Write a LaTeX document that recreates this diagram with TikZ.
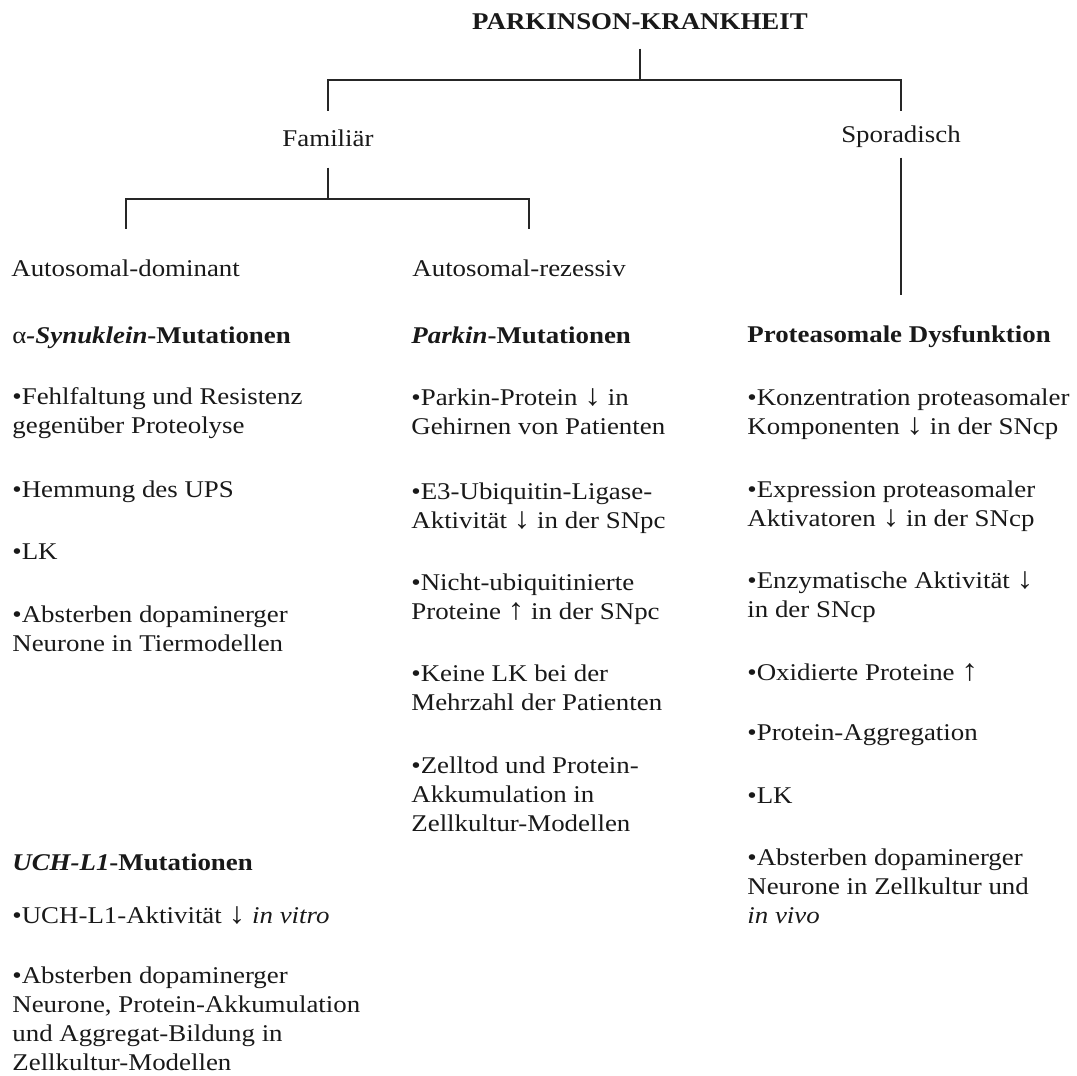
\documentclass[tikz,border=0pt]{standalone}
\usepackage{fontspec}
\setmainfont{Liberation Serif}[FakeStretch=1.12]
\usetikzlibrary{positioning}
\newcommand{\pksize}{\fontsize{12pt}{14.4pt}\selectfont}
\newcommand{\pkdown}{\scalebox{1.25}{↓}}
\newcommand{\pkup}{\scalebox{1.25}{↑}}

\begin{document}
\begin{tikzpicture}[
  x=0.5pt, y=-0.5pt,
  lbl/.style={inner sep=0pt, anchor=base, font=\pksize, text=black!90},
  head/.style={inner sep=0pt, anchor=base west, font=\pksize\bfseries, text=black!90},
  item/.style={inner sep=0pt, anchor=base west, align=left, font=\pksize, text=black!90},
  link/.style={line width=0.9pt, black!85}
]
  \useasboundingbox (0,0) rectangle (1077,1076);

  % tree
  \node[lbl, font=\pksize\bfseries] (pk) at (640,30) {PARKINSON-KRANKHEIT};
  \node[lbl] (fam) at (328,146) {Familiär};
  \node[lbl] (spor) at (901,142) {Sporadisch};
  \node[lbl, anchor=base west] (adom) at (11,276) {Autosomal-dominant};
  \node[lbl, anchor=base west] (arez) at (412,276) {Autosomal-rezessiv};

  \draw[link] ([yshift=-9pt]pk.south) -- ++(0,31) coordinate (j1);
  \draw[link] ([yshift=9pt]fam.north) |- (j1) -| ([yshift=7pt]spor.north);
  \draw[link] ([yshift=-10.5pt]fam.south) -- ++(0,31) coordinate (j2);
  \draw[link] ([yshift=15pt]adom.north) |- (j2) -| ([xshift=5pt,yshift=15pt]arez.north);

  % autosomal-dominant (base = last line)
  \node[head] (syn) at (12,343) {{\mdseries α}\textit{-Synuklein}-Mutationen};
  \node[item] (syn1) at (12,433) {•Fehlfaltung und Resistenz\\gegenüber Proteolyse};
  \node[item] (syn2) at (12,497) {•Hemmung des UPS};
  \node[item] (syn3) at (12,559) {•LK};
  \node[item] (syn4) at (12,651) {•Absterben dopaminerger\\Neurone in Tiermodellen};

  \node[head] (uch) at (12,870) {\textit{UCH-L1}-Mutationen};
  \node[item] (uch1) at (12,923) {•UCH-L1-Aktivität \pkdown{} \textit{in vitro}};
  \node[item] (uch2) at (12,1070) {•Absterben dopaminerger\\Neurone, Protein-Akkumulation\\und Aggregat-Bildung in\\Zellkultur-Modellen};

  % autosomal-rezessiv
  \node[head] (park) at (411,343) {\textit{Parkin}-Mutationen};
  \node[item] (park1) at (411,434) {•Parkin-Protein \pkdown{} in\\Gehirnen von Patienten};
  \node[item] (park2) at (411,528) {•E3-Ubiquitin-Ligase-\\Aktivität \pkdown{} in der SNpc};
  \node[item] (park3) at (411,619) {•Nicht-ubiquitinierte\\Proteine \pkup{} in der SNpc};
  \node[item] (park4) at (411,710) {•Keine LK bei der\\Mehrzahl der Patienten};
  \node[item] (park5) at (411,831) {•Zelltod und Protein-\\Akkumulation in\\Zellkultur-Modellen};

  % sporadisch
  \node[head] (prot) at (747,342) {Proteasomale Dysfunktion};
  \node[item] (prot1) at (747,434) {•Konzentration proteasomaler\\Komponenten \pkdown{} in der SNcp};
  \node[item] (prot2) at (747,526) {•Expression proteasomaler\\Aktivatoren \pkdown{} in der SNcp};
  \node[item] (prot3) at (747,617) {•Enzymatische Aktivität \pkdown\\in der SNcp};
  \node[item] (prot4) at (747,680) {•Oxidierte Proteine \pkup};
  \node[item] (prot5) at (747,740) {•Protein-Aggregation};
  \node[item] (prot6) at (747,803) {•LK};
  \node[item] (prot7) at (747,923) {•Absterben dopaminerger\\Neurone in Zellkultur und\\\textit{in vivo}};

  \draw[link] ([yshift=-5pt]spor.south) -- ([yshift=15pt]spor.south |- prot.north);
\end{tikzpicture}
\end{document}
